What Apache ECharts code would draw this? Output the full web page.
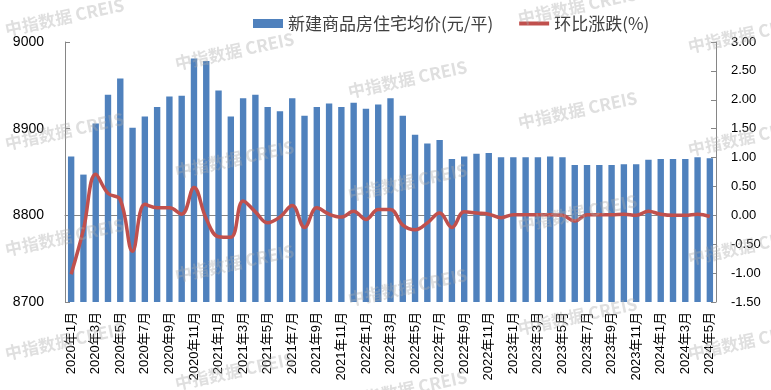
<!DOCTYPE html>
<html><head><meta charset="utf-8">
<script src="https://cdn.jsdelivr.net/npm/echarts@6/dist/echarts.min.js"></script>
<style>html,body{margin:0;padding:0;background:#fff}#c{width:771px;height:390px}</style>
</head><body><div id="c"></div>
<script>
const categories = [
 '2020年1月','2020年2月','2020年3月','2020年4月','2020年5月','2020年6月','2020年7月','2020年8月','2020年9月','2020年10月','2020年11月','2020年12月',
 '2021年1月','2021年2月','2021年3月','2021年4月','2021年5月','2021年6月','2021年7月','2021年8月','2021年9月','2021年10月','2021年11月','2021年12月',
 '2022年1月','2022年2月','2022年3月','2022年4月','2022年5月','2022年6月','2022年7月','2022年8月','2022年9月','2022年10月','2022年11月','2022年12月',
 '2023年1月','2023年2月','2023年3月','2023年4月','2023年5月','2023年6月','2023年7月','2023年8月','2023年9月','2023年10月','2023年11月','2023年12月',
 '2024年1月','2024年2月','2024年3月','2024年4月','2024年5月'
];
const avgPrice = [
 8868, 8847, 8906, 8939, 8958, 8901, 8914, 8925, 8937, 8938, 8981, 8978,
 8944, 8914, 8935, 8939, 8925, 8920, 8935, 8915, 8925, 8929, 8925, 8930,
 8923, 8928, 8935, 8915, 8893, 8883, 8887, 8865, 8868, 8871, 8872, 8867,
 8867, 8867, 8867, 8868, 8867, 8858, 8858, 8858, 8858, 8859, 8859, 8864,
 8865, 8865, 8865, 8867, 8866
];
const momChange = [
 -1.02, -0.25, 0.71, 0.38, 0.27, -0.62, 0.19, 0.13, 0.13, 0.02, 0.48, -0.06,
 -0.37, -0.38, 0.25, 0.06, -0.13, -0.03, 0.17, -0.21, 0.13, 0.02, -0.03, 0.07,
 -0.07, 0.10, 0.10, -0.17, -0.25, -0.13, 0.04, -0.21, 0.06, 0.04, 0.02, -0.04,
 0.01, 0.01, 0.01, 0.01, 0.00, -0.10, 0.01, 0.01, 0.01, 0.02, 0.00, 0.07,
 0.02, 0.00, 0.00, 0.02, -0.02
];
const seriesNames = ['新建商品房住宅均价(元/平)', '环比涨跌(%)'];
const watermarkText = '中指数据 CREIS';
const watermarkAnchors = [
 [7,38],[7,152],[7,258],[7,362],
 [177,72],[177,180],[177,284],[177,392],
 [350,100],[350,203],[350,308],[350,410],
 [520,27],[520,131],[520,234],[520,337],
 [690,55],[690,158],[690,267],[690,362]
];
const FONT = '"Liberation Sans", "Noto Sans CJK SC", sans-serif';
const chart = echarts.init(document.getElementById('c'), null, {renderer:'canvas'});
const graphics = watermarkAnchors.map(p => ({
  type:'text', x:p[0], y:p[1], rotation:0.21, z:100, silent:true,
  style:{text:watermarkText, fontSize:17, fontWeight:'bold', fontFamily:'"Noto Sans CJK SC", sans-serif',
         fill:'rgba(170,170,170,0.38)', verticalAlign:'bottom', align:'left'}
}));
chart.setOption({
  animation:false,
  backgroundColor:'#fff',
  textStyle:{fontFamily:FONT},
  grid:{left:65, right:55, top:42, bottom:88, containLabel:false},
  legend:{
    left:248, top:10, itemWidth:30, itemHeight:9, itemGap:26,
    textStyle:{fontSize:17, color:'#404040', fontFamily:'"Noto Sans CJK SC", sans-serif'},
    data:[
      {name:seriesNames[0], icon:'rect'},
      {name:seriesNames[1], icon:'path://M0,0 L30,0 L30,4 L0,4 Z', itemStyle:{color:'#C0504D'}}
    ]
  },
  xAxis:{
    type:'category', data:categories, boundaryGap:true,
    axisLine:{show:true, lineStyle:{color:'#868686', width:1}},
    axisTick:{show:false},
    axisLabel:{rotate:90, interval:1, fontSize:13, color:'#000', margin:10, fontFamily:FONT}
  },
  yAxis:[
    {type:'value', min:8700, max:9000, interval:100, position:'left',
     axisLine:{show:true, lineStyle:{color:'#868686'}},
     axisTick:{show:true, inside:true, length:5, lineStyle:{color:'#868686'}},
     splitLine:{show:false},
     axisLabel:{fontSize:14, color:'#000', margin:21, formatter:v => String(v)}},
    {type:'value', min:-1.5, max:3, interval:0.5, position:'right',
     axisLine:{show:true, lineStyle:{color:'#868686'}},
     axisTick:{show:true, inside:true, length:5, lineStyle:{color:'#868686'}},
     splitLine:{show:false},
     axisLabel:{fontSize:13, color:'#000', margin:15, formatter:v => v.toFixed(2)}}
  ],
  series:[
    {name:seriesNames[0], type:'bar', yAxisIndex:0, data:avgPrice, barWidth:'52%',
     itemStyle:{color:'#4F81BD'}},
    {name:seriesNames[1], type:'line', yAxisIndex:1, data:momChange, smooth:0.4,
     symbol:'none', showSymbol:false, z:5,
     lineStyle:{color:'#C0504D', width:3.5}, itemStyle:{color:'#C0504D'}}
  ],
  graphic:graphics
});
</script></body></html>
